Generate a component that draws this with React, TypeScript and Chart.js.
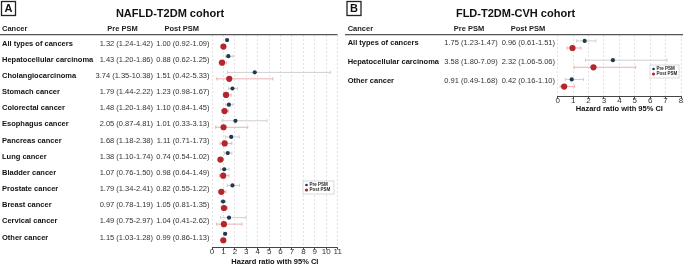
import React, { useEffect, useRef } from "react";
import { Chart, registerables } from "chart.js";

Chart.register(...registerables);

const FONT = "'Liberation Sans', Arial, Helvetica, sans-serif";

// ---------- Panel A data ----------
const cancersA = [
  "All types of cancers",
  "Hepatocellular carcinoma",
  "Cholangiocarcinoma",
  "Stomach cancer",
  "Colorectal cancer",
  "Esophagus cancer",
  "Pancreas cancer",
  "Lung cancer",
  "Bladder cancer",
  "Prostate cancer",
  "Breast cancer",
  "Cervical cancer",
  "Other cancer",
];
const preHrA = [1.32, 1.43, 3.74, 1.79, 1.48, 2.05, 1.68, 1.38, 1.07, 1.79, 0.97, 1.49, 1.15];
const preLoA = [1.24, 1.2, 1.35, 1.44, 1.2, 0.87, 1.18, 1.1, 0.76, 1.34, 0.78, 0.75, 1.03];
const preHiA = [1.42, 1.86, 10.38, 2.22, 1.84, 4.81, 2.38, 1.74, 1.5, 2.41, 1.19, 2.97, 1.28];
const postHrA = [1.0, 0.88, 1.51, 1.23, 1.1, 1.01, 1.11, 0.74, 0.98, 0.82, 1.05, 1.04, 0.99];
const postLoA = [0.92, 0.62, 0.42, 0.98, 0.84, 0.33, 0.71, 0.54, 0.64, 0.55, 0.81, 0.41, 0.86];
const postHiA = [1.09, 1.25, 5.33, 1.67, 1.45, 3.13, 1.73, 1.02, 1.49, 1.22, 1.35, 2.62, 1.13];
const preTextA = [
  "1.32 (1.24-1.42)",
  "1.43 (1.20-1.86)",
  "3.74 (1.35-10.38)",
  "1.79 (1.44-2.22)",
  "1.48 (1.20-1.84)",
  "2.05 (0.87-4.81)",
  "1.68 (1.18-2.38)",
  "1.38 (1.10-1.74)",
  "1.07 (0.76-1.50)",
  "1.79 (1.34-2.41)",
  "0.97 (0.78-1.19)",
  "1.49 (0.75-2.97)",
  "1.15 (1.03-1.28)",
];
const postTextA = [
  "1.00 (0.92-1.09)",
  "0.88 (0.62-1.25)",
  "1.51 (0.42-5.33)",
  "1.23 (0.98-1.67)",
  "1.10 (0.84-1.45)",
  "1.01 (0.33-3.13)",
  "1.11 (0.71-1.73)",
  "0.74 (0.54-1.02)",
  "0.98 (0.64-1.49)",
  "0.82 (0.55-1.22)",
  "1.05 (0.81-1.35)",
  "1.04 (0.41-2.62)",
  "0.99 (0.86-1.13)",
];
const xMaxA = 11;

// ---------- Panel B data ----------
const cancersB = ["All types of cancers", "Hepatocellular carcinoma", "Other cancer"];
const preHrB = [1.75, 3.58, 0.91];
const preLoB = [1.23, 1.8, 0.49];
const preHiB = [2.47, 7.09, 1.68];
const postHrB = [0.96, 2.32, 0.42];
const postLoB = [0.61, 1.06, 0.16];
const postHiB = [1.51, 5.06, 1.1];
const preTextB = ["1.75 (1.23-1.47)", "3.58 (1.80-7.09)", "0.91 (0.49-1.68)"];
const postTextB = ["0.96 (0.61-1.51)", "2.32 (1.06-5.06)", "0.42 (0.16-1.10)"];
const xMaxB = 8;

const headers = ["Cancer", "Pre PSM", "Post PSM"];
const seriesNames = ["Pre PSM", "Post PSM"];
const axisTitle = "Hazard ratio with 95% CI";

const PRE_COLOR = "#1f3a4b";
const POST_COLOR = "#b3262b";
const PRE_CI = "#cfcfcf";
const POST_CI = "#e9b2b2";

type Spec = {
  letter: string;
  title: string;
  cancers: string[];
  preHr: number[];
  preLo: number[];
  preHi: number[];
  postHr: number[];
  postLo: number[];
  postHi: number[];
  preText: string[];
  postText: string[];
  xMax: number;
  W: number;
  H: number;
  plotLeft: number;
  plotRight: number;
  top: number;
  axisY: number;
  scaleH: number;
  yMin: number;
  yMax: number;
  off: number;
  textDy: number;
  titleX: number;
  boxX: number;
  cancerX: number;
  preHeadX: number;
  postHeadX: number;
  preRight: number;
  postRight: number;
  lineX0: number;
  lineX1: number;
  legend: { x: number; y: number; w: number; h: number };
};

const specA: Spec = {
  letter: "A",
  title: "NAFLD-T2DM cohort",
  cancers: cancersA,
  preHr: preHrA,
  preLo: preLoA,
  preHi: preHiA,
  postHr: postHrA,
  postLo: postLoA,
  postHi: postHiA,
  preText: preTextA,
  postText: postTextA,
  xMax: xMaxA,
  W: 343,
  H: 266,
  plotLeft: 212,
  plotRight: 337.7,
  top: 35,
  axisY: 247.7,
  scaleH: 18.3,
  yMin: -0.514,
  yMax: 12.66,
  off: 0.2,
  textDy: 0.4,
  titleX: 170,
  boxX: 1.5,
  cancerX: 2,
  preHeadX: 122.5,
  postHeadX: 181.7,
  preRight: 153,
  postRight: 209.5,
  lineX0: 0,
  lineX1: 337.5,
  legend: { x: 303, y: 181, w: 31, h: 13 },
};

const specB: Spec = {
  letter: "B",
  title: "FLD-T2DM-CVH cohort",
  cancers: cancersB,
  preHr: preHrB,
  preLo: preLoB,
  preHi: preHiB,
  postHr: postHrB,
  postLo: postLoB,
  postHi: postHiB,
  preText: preTextB,
  postText: postTextB,
  xMax: xMaxB,
  W: 342,
  H: 266,
  plotLeft: 214.7,
  plotRight: 339.7,
  top: 35,
  axisY: 96.7,
  scaleH: 15.5,
  yMin: -0.49,
  yMax: 2.71,
  off: 0.185,
  textDy: -1.6,
  titleX: 172.5,
  boxX: 4,
  cancerX: 4.7,
  preHeadX: 126,
  postHeadX: 185,
  preRight: 154.7,
  postRight: 212,
  lineX0: 2,
  lineX1: 340,
  legend: { x: 307, y: 65, w: 29, h: 13 },
};

function makePlugin(s: Spec) {
  return {
    id: "forest" + s.letter,
    beforeDatasetsDraw(chart: any) {
      const ctx = chart.ctx as CanvasRenderingContext2D;
      const xs = chart.scales.x;
      const ys = chart.scales.y;
      const bar = (lo: number, hi: number, yv: number, color: string) => {
        const x0 = xs.getPixelForValue(lo);
        const x1 = xs.getPixelForValue(hi);
        const y = ys.getPixelForValue(yv);
        ctx.save();
        ctx.strokeStyle = color;
        ctx.lineWidth = 1;
        ctx.beginPath();
        ctx.moveTo(x0, y);
        ctx.lineTo(x1, y);
        ctx.moveTo(x0, y - 1.6);
        ctx.lineTo(x0, y + 1.6);
        ctx.moveTo(x1, y - 1.6);
        ctx.lineTo(x1, y + 1.6);
        ctx.stroke();
        ctx.restore();
      };
      s.cancers.forEach((_, i) => {
        bar(s.preLo[i], s.preHi[i], i - s.off, PRE_CI);
        bar(s.postLo[i], s.postHi[i], i + s.off, POST_CI);
      });
    },
    afterDraw(chart: any) {
      const ctx = chart.ctx as CanvasRenderingContext2D;
      const ys = chart.scales.y;
      ctx.save();
      // panel letter box
      ctx.strokeStyle = "#222";
      ctx.lineWidth = 1.3;
      ctx.strokeRect(s.boxX, 1.5, 14, 14);
      ctx.fillStyle = "#111";
      ctx.font = `bold 11px ${FONT}`;
      ctx.textAlign = "center";
      ctx.textBaseline = "middle";
      ctx.fillText(s.letter, s.boxX + 7, 9);
      // title
      ctx.font = `bold 11px ${FONT}`;
      ctx.fillText(s.title, s.titleX, 13.5);
      // header
      ctx.font = `bold 7.5px ${FONT}`;
      ctx.fillStyle = "#222";
      ctx.textAlign = "left";
      ctx.fillText(headers[0], s.cancerX, 29);
      ctx.textAlign = "center";
      ctx.fillText(headers[1], s.preHeadX, 29);
      ctx.fillText(headers[2], s.postHeadX, 29);
      ctx.strokeStyle = "#555";
      ctx.lineWidth = 1.2;
      ctx.beginPath();
      ctx.moveTo(s.lineX0, 34.7);
      ctx.lineTo(s.lineX1, 34.7);
      ctx.stroke();
      // rows
      s.cancers.forEach((name, i) => {
        const y = ys.getPixelForValue(i) + s.textDy;
        ctx.fillStyle = "#111";
        ctx.font = `bold 7.5px ${FONT}`;
        ctx.textAlign = "left";
        ctx.fillText(name, s.cancerX, y);
        ctx.fillStyle = "#333";
        ctx.font = `7.5px ${FONT}`;
        ctx.textAlign = "right";
        ctx.fillText(s.preText[i], s.preRight, y);
        ctx.fillText(s.postText[i], s.postRight, y);
      });
      // legend
      const L = s.legend;
      ctx.fillStyle = "#fff";
      ctx.fillRect(L.x, L.y, L.w, L.h);
      ctx.strokeStyle = "#cfcfcf";
      ctx.lineWidth = 0.8;
      ctx.strokeRect(L.x, L.y, L.w, L.h);
      const colors = [PRE_COLOR, POST_COLOR];
      const radii = [1.3, 1.6];
      seriesNames.forEach((nm, k) => {
        const yy = L.y + 4 + k * 5;
        ctx.fillStyle = colors[k];
        ctx.beginPath();
        ctx.arc(L.x + 3.5, yy, radii[k], 0, Math.PI * 2);
        ctx.fill();
        ctx.fillStyle = "#222";
        ctx.font = `bold 4.5px ${FONT}`;
        ctx.textAlign = "left";
        ctx.fillText(nm, L.x + 6.5, yy + 0.2);
      });
      ctx.restore();
    },
  };
}

function makeConfig(s: Spec): any {
  return {
    type: "scatter",
    data: {
      datasets: [
        {
          label: seriesNames[0],
          data: s.preHr.map((v, i) => ({ x: v, y: i - s.off })),
          backgroundColor: PRE_COLOR,
          borderWidth: 0,
          pointRadius: 2.1,
          pointStyle: "circle",
        },
        {
          label: seriesNames[1],
          data: s.postHr.map((v, i) => ({ x: v, y: i + s.off })),
          backgroundColor: POST_COLOR,
          borderWidth: 0,
          pointRadius: 3.1,
          pointStyle: "circle",
        },
      ],
    },
    options: {
      responsive: false,
      animation: false,
      devicePixelRatio: 1,
      layout: {
        padding: {
          left: s.plotLeft,
          right: s.W - s.plotRight,
          top: s.top,
          bottom: s.H - s.axisY - s.scaleH,
        },
      },
      plugins: {
        legend: { display: false },
        tooltip: { enabled: false },
      },
      scales: {
        x: {
          type: "linear",
          min: 0,
          max: s.xMax,
          afterFit: (scale: any) => {
            scale.height = s.scaleH;
          },
          ticks: {
            stepSize: 1,
            autoSkip: false,
            maxRotation: 0,
            padding: -2.5,
            color: "#333",
            font: { family: FONT, size: 8 },
          },
          grid: {
            color: "#dcdcdc",
            lineWidth: 0.8,
            drawTicks: true,
            tickLength: 2,
            tickColor: "#444",
            tickWidth: 1,
            tickBorderDash: [],
          },
          border: {
            display: true,
            color: "#444",
            width: 1,
            dash: [2, 2],
          },
          title: {
            display: true,
            text: axisTitle,
            color: "#111",
            font: { family: FONT, size: 7.5, weight: "bold", lineHeight: 1 },
            padding: { top: 0, bottom: 0 },
          },
        },
        y: {
          type: "linear",
          display: false,
          reverse: true,
          min: s.yMin,
          max: s.yMax,
        },
      },
    },
    plugins: [makePlugin(s)],
  };
}

function Panel({ spec, left }: { spec: Spec; left: number }) {
  const ref = useRef<HTMLCanvasElement | null>(null);
  useEffect(() => {
    if (!ref.current) return;
    const chart = new Chart(ref.current, makeConfig(spec));
    return () => chart.destroy();
  }, [spec]);
  return (
    <canvas
      ref={ref}
      width={spec.W}
      height={spec.H}
      style={{ position: "absolute", left, top: 0, width: spec.W, height: spec.H }}
    />
  );
}

export default function App() {
  return (
    <div
      style={{
        position: "absolute",
        left: 0,
        top: 0,
        width: 685,
        height: 266,
        background: "#fff",
        overflow: "hidden",
      }}
    >
      <Panel spec={specA} left={0} />
      <Panel spec={specB} left={343} />
    </div>
  );
}
